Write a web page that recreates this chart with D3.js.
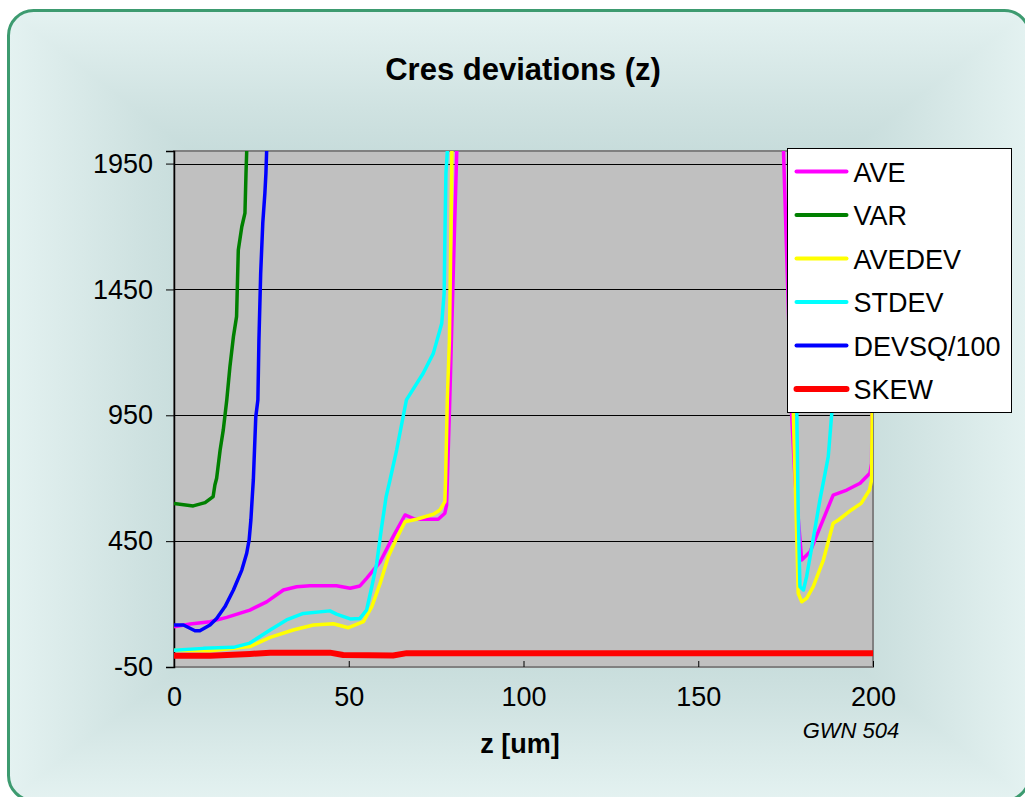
<!DOCTYPE html>
<html>
<head>
<meta charset="utf-8">
<script src="https://cdn.jsdelivr.net/npm/d3@7"></script>
<style>
  body { margin: 0; background: #ffffff; }
  text { font-family: Arial, "Liberation Sans", sans-serif; fill: #000; }
</style>
</head>
<body>
<div id="chart"></div>
<script>

// Series (z in um, value); points above 2000 are off scale
var seriesNames = ["AVE", "VAR", "AVEDEV", "STDEV", "DEVSQ/100", "SKEW"];

var aveZ = [0, 4.6, 10.3, 15.1, 21.7, 26.5, 31.3, 35.1, 38.9, 46.5, 50.4, 53.2, 55.1, 59, 62.7, 66.1, 69, 75.6, 77.5, 78.0,
  78.9, 79.9, 80.9, 82, 173, 174.4, 176.7, 177.7, 179.6, 182.0, 184.9, 188.6, 192.5, 196.3, 199.1, 199.6, 200];
var aveV = [110, 121, 130, 147, 176, 209, 256, 269, 273, 273, 263, 272, 302, 368, 468, 554, 537, 537, 561, 594,
  1011, 1514, 1997, 2400, 2400, 1997, 958, 693, 375, 408, 507, 633, 653, 680, 720, 759, 1500];

var varZ = [0, 5.5, 8.9, 11.2, 11.7, 12.2, 13.2, 14.1, 15.1, 16.0, 17.0, 17.9, 18.4, 19.4, 20.3, 20.6, 20.8, 22, 200];
var varV = [600, 590, 603, 627, 673, 700, 812, 892, 1011, 1143, 1262, 1342, 1607, 1699, 1753, 1911, 1997, 2400, 2400];

var avedevZ = [0, 10.3, 21.7, 27.5, 34.1, 39.9, 45.6, 49.9, 54.2, 56.6, 59, 61.3, 63.7, 66.1, 69.4, 74.2, 76.1, 77.5, 77.7, 78.2,
  78.8, 79.2, 79.5, 81, 176.3, 177.2, 178.0, 178.6, 179.6, 181.0, 182.9, 185.8, 188.6, 190.1, 193.8, 196.6, 199.0, 199.6, 200];
var avedevV = [17, 15, 31, 68, 97, 117, 122, 106, 130, 190, 283, 388, 461, 527, 537, 557, 574, 607, 693, 1011,
  1249, 1646, 1997, 2400, 2400, 958, 561, 243, 209, 223, 269, 375, 521, 534, 574, 600, 653, 693, 1500];

var stdevZ = [0, 8.4, 17, 21.7, 27.5, 32.2, 37, 44.6, 46.5, 50.4, 53.2, 55.1, 56.6, 58, 59.4, 60.7, 61.8, 63.7, 66.5, 71.3,
  74.2, 76.6, 77.3, 77.5, 77.8, 78.2, 79.5, 177.6, 178.2, 178.6, 179.1, 180.1, 181.0, 182.5, 184.8, 186.3, 187.2, 188.2, 189.0, 200];
var stdevV = [17, 24, 28, 45, 97, 137, 163, 173, 160, 141, 143, 176, 269, 362, 505, 627, 693, 812, 1011, 1117,
  1196, 1315, 1435, 1646, 1911, 1997, 2400, 2400, 958, 561, 269, 256, 309, 428, 613, 720, 786, 958, 2400, 2400];

var devsqZ = [0, 2.7, 6.0, 7.4, 10.3, 12.2, 14.6, 17.0, 19.4, 20.8, 21.5, 22.0, 22.4, 22.7, 23.4, 24.0, 24.3, 24.8, 25.4, 26.0, 26.3, 26.5, 28, 200];
var devsqV = [117, 117, 94, 94, 117, 143, 190, 256, 335, 402, 455, 534, 627, 693, 944, 1011, 1249, 1514, 1713, 1832, 1911, 1997, 2400, 2400];

var skewZ = [0, 10.3, 21.7, 27.5, 44.6, 48.4, 62.7, 66.6, 200];
var skewV = [-5, -5, 2, 7, 7, -2, -4, 5, 5];

var xTicks = [0, 50, 100, 150, 200];
var yTicks = [-50, 450, 950, 1450, 1950];

// styles
var seriesColors = ["#ff00ff", "#008000", "#ffff00", "#00ffff", "#0000ff", "#ff0000"];
var seriesWidths = [3.5, 3.5, 3.5, 3.5, 3.5, 6];

var seriesData = [
  d3.zip(aveZ, aveV),
  d3.zip(varZ, varV),
  d3.zip(avedevZ, avedevV),
  d3.zip(stdevZ, stdevV),
  d3.zip(devsqZ, devsqV),
  d3.zip(skewZ, skewV)
];

var svgWidth = 1025;
var svgHeight = 797;

var margin = {
  top: 151,
  right: 152,
  bottom: 130,
  left: 174
};

var width = svgWidth - margin.left - margin.right;
var height = svgHeight - margin.top - margin.bottom;

// Append SVG element
var svg = d3.select("#chart")
  .append("svg")
  .attr("width", svgWidth)
  .attr("height", svgHeight);

var defs = svg.append("defs");

// rectangular "from center" fill: a horizontal and a vertical gradient blended with lighten
var stops = [[0, "#e4f2f1"], [0.125, "#cfe2e1"], [0.2, "#c4dad9"], [0.5, "#bcd3d2"], [0.8, "#c4dad9"], [0.875, "#cfe2e1"], [1, "#e4f2f1"]];

var gradH = defs.append("linearGradient").attr("id", "gradH")
  .attr("x1", 0).attr("y1", 0).attr("x2", 1).attr("y2", 0);
var gradV = defs.append("linearGradient").attr("id", "gradV")
  .attr("x1", 0).attr("y1", 0).attr("x2", 0).attr("y2", 1);

[gradH, gradV].forEach(function(g) {
  g.selectAll("stop")
    .data(stops)
    .enter()
    .append("stop")
    .attr("offset", d => d[0])
    .attr("stop-color", d => d[1]);
});

defs.append("clipPath")
  .attr("id", "plotClip")
  .append("rect")
  .attr("width", width)
  .attr("height", height);

// chart frame
var frame = { x: 8.5, y: 10.5, w: 1021, h: 790, r: 25 };

var bgGroup = svg.append("g").style("isolation", "isolate");

bgGroup.append("rect")
  .attr("x", frame.x).attr("y", frame.y)
  .attr("width", frame.w).attr("height", frame.h)
  .attr("rx", frame.r)
  .attr("fill", "url(#gradH)");

bgGroup.append("rect")
  .attr("x", frame.x).attr("y", frame.y)
  .attr("width", frame.w).attr("height", frame.h)
  .attr("rx", frame.r)
  .attr("fill", "url(#gradV)")
  .style("mix-blend-mode", "lighten");

svg.append("rect")
  .attr("x", frame.x).attr("y", frame.y)
  .attr("width", frame.w).attr("height", frame.h)
  .attr("rx", frame.r)
  .attr("fill", "none")
  .attr("stroke", "#3d9b70")
  .attr("stroke-width", 3);

// Append group element
var chartGroup = svg.append("g")
  .attr("transform", `translate(${margin.left}, ${margin.top})`);

var xLinearScale = d3.scaleLinear()
  .domain([0, 200])
  .range([0, width]);

var yLinearScale = d3.scaleLinear()
  .domain([-50, 2000])
  .range([height, 0]);

// plot area
chartGroup.append("rect")
  .attr("width", width)
  .attr("height", height)
  .attr("fill", "#c0c0c0")
  .attr("stroke", "#808080")
  .attr("stroke-width", 2);

// gridlines
chartGroup.selectAll(".grid")
  .data(yTicks.filter(d => d > -50))
  .enter()
  .append("line")
  .attr("class", "grid")
  .attr("x1", 0)
  .attr("x2", width)
  .attr("y1", d => Math.round(yLinearScale(d)) + 0.5)
  .attr("y2", d => Math.round(yLinearScale(d)) + 0.5)
  .attr("stroke", "#000")
  .attr("stroke-width", 1);

// axes
var bottomAxis = d3.axisBottom(xLinearScale)
  .tickValues(xTicks)
  .tickFormat(d => String(d))
  .tickSize(-6)
  .tickPadding(20);

var leftAxis = d3.axisLeft(yLinearScale)
  .tickValues(yTicks)
  .tickFormat(d => String(d))
  .tickSize(8)
  .tickPadding(13);

var xAxis = chartGroup.append("g")
  .attr("transform", `translate(0, ${height})`)
  .call(bottomAxis);

xAxis.select(".domain").remove();

var yAxis = chartGroup.append("g")
  .call(leftAxis);

yAxis.select(".domain").attr("stroke", "#000").attr("stroke-width", 1.5);

[xAxis, yAxis].forEach(function(a) {
  a.selectAll("line").attr("stroke", "#000");
  a.selectAll("text")
    .attr("font-size", "27px")
    .attr("font-family", "Arial, 'Liberation Sans', sans-serif")
    .attr("fill", "#000");
});

// series lines
var line = d3.line()
  .x(d => xLinearScale(d[0]))
  .y(d => yLinearScale(d[1]));

chartGroup.append("g")
  .attr("clip-path", "url(#plotClip)")
  .selectAll("path")
  .data(seriesData)
  .enter()
  .append("path")
  .attr("d", line)
  .attr("fill", "none")
  .attr("stroke", (d, i) => seriesColors[i])
  .attr("stroke-width", (d, i) => seriesWidths[i])
  .attr("stroke-linejoin", "round");

// titles
svg.append("text")
  .attr("x", 523)
  .attr("y", 80)
  .attr("text-anchor", "middle")
  .attr("font-size", "31px")
  .attr("font-weight", "bold")
  .text("Cres deviations (z)");

svg.append("text")
  .attr("x", 520)
  .attr("y", 753)
  .attr("text-anchor", "middle")
  .attr("font-size", "27px")
  .attr("font-weight", "bold")
  .text("z [um]");

svg.append("text")
  .attr("x", 851)
  .attr("y", 738)
  .attr("text-anchor", "middle")
  .attr("font-size", "22px")
  .attr("font-style", "italic")
  .text("GWN 504");

// legend
var legend = svg.append("g")
  .attr("transform", "translate(787.5, 148.5)");

legend.append("rect")
  .attr("width", 224)
  .attr("height", 264)
  .attr("fill", "#ffffff")
  .attr("stroke", "#000")
  .attr("stroke-width", 1);

var legendRows = legend.selectAll(".row")
  .data(seriesNames)
  .enter()
  .append("g")
  .attr("class", "row")
  .attr("transform", (d, i) => `translate(0, ${23 + i * 43.5})`);

legendRows.append("line")
  .attr("x1", 9)
  .attr("x2", 59)
  .attr("stroke", (d, i) => seriesColors[i])
  .attr("stroke-width", (d, i) => i === 5 ? 6 : 4)
  .attr("stroke-linecap", "round");

legendRows.append("text")
  .attr("x", 66)
  .attr("y", 10)
  .attr("font-size", "27px")
  .text(d => d);

</script>
</body>
</html>
